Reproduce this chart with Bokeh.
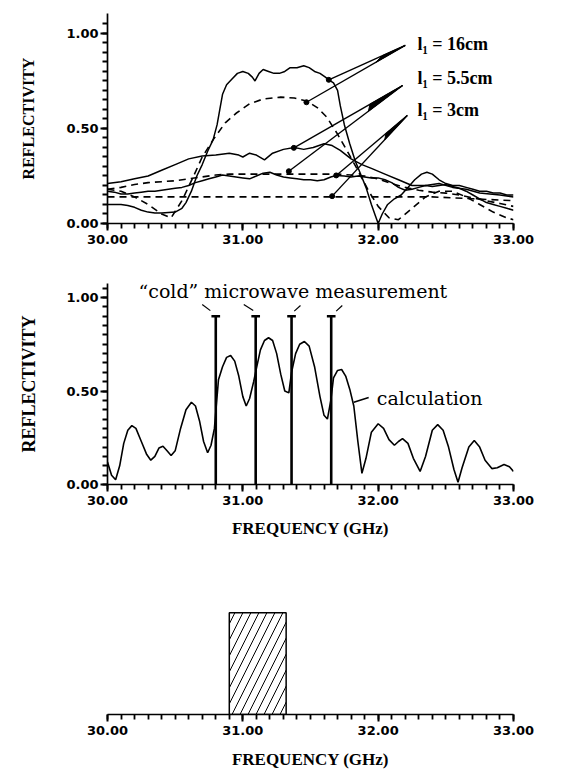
import numpy as np
from bokeh.plotting import figure
from bokeh.models import Range1d, FixedTicker, NumeralTickFormatter, Label
from bokeh.layouts import column
from bokeh.embed import file_html
from bokeh.resources import INLINE
from bokeh.core.properties import value

# ---------------- data ----------------
x_ticks = [30.0, 31.0, 32.0, 33.0]
y_ticks = [0.0, 0.5, 1.0]

# panel a) measured (solid) and calculated (dashed) reflectivity
f_m16 = [30.00, 30.05, 30.10, 30.15, 30.20, 30.25, 30.30, 30.35, 30.40, 30.45, 30.50, 30.55, 30.58, 30.62,
         30.66, 30.70, 30.74, 30.78, 30.81, 30.83, 30.85, 30.88, 30.92, 30.96, 31.00, 31.04, 31.07, 31.09,
         31.12, 31.15, 31.19, 31.23, 31.27, 31.31, 31.35, 31.40, 31.45, 31.49, 31.53, 31.57, 31.61, 31.635,
         31.67, 31.70, 31.72, 31.75, 31.79, 31.83, 31.87, 31.91, 31.95, 31.98, 32.00, 32.03, 32.07, 32.12,
         32.17, 32.22, 32.27, 32.32, 32.36, 32.40, 32.45, 32.50, 32.55, 32.60, 32.65, 32.70, 32.75, 32.80,
         32.85, 32.90, 32.95, 33.00]
r_m16 = [0.10, 0.10, 0.10, 0.095, 0.085, 0.07, 0.06, 0.055, 0.055, 0.058, 0.06, 0.08, 0.11, 0.17,
         0.25, 0.31, 0.38, 0.44, 0.52, 0.60, 0.68, 0.73, 0.76, 0.79, 0.80, 0.79, 0.77, 0.75,
         0.79, 0.81, 0.80, 0.79, 0.79, 0.80, 0.82, 0.82, 0.83, 0.82, 0.80, 0.79, 0.77, 0.756,
         0.74, 0.70, 0.62, 0.52, 0.42, 0.33, 0.26, 0.19, 0.10, 0.04, 0.0, 0.05, 0.10, 0.13,
         0.15, 0.19, 0.23, 0.26, 0.27, 0.26, 0.23, 0.21, 0.20, 0.20, 0.19, 0.18, 0.17, 0.17,
         0.16, 0.16, 0.15, 0.15]

f_c16 = [30.00, 30.10, 30.20, 30.30, 30.40, 30.47, 30.55, 30.63, 30.70, 30.78, 30.87, 30.95, 31.05, 31.15,
         31.28, 31.38, 31.47, 31.55, 31.62, 31.70, 31.78, 31.85, 31.93, 32.00, 32.08, 32.15, 32.25, 32.35,
         32.45, 32.55, 32.65, 32.75, 32.85, 32.95, 33.00]
r_c16 = [0.18, 0.17, 0.14, 0.10, 0.05, 0.03, 0.12, 0.24, 0.35, 0.44, 0.53, 0.58, 0.63, 0.655,
         0.665, 0.66, 0.645, 0.61, 0.56, 0.47, 0.37, 0.28, 0.17, 0.09, 0.03, 0.02, 0.08, 0.14,
         0.17, 0.17, 0.14, 0.10, 0.06, 0.03, 0.02]

f_m55 = [30.00, 30.10, 30.20, 30.30, 30.40, 30.50, 30.60, 30.70, 30.80, 30.90, 30.97, 31.00, 31.05, 31.10,
         31.16, 31.22, 31.30, 31.38, 31.45, 31.52, 31.60, 31.66, 31.72, 31.80, 31.88, 31.95, 32.05, 32.15,
         32.25, 32.35, 32.45, 32.55, 32.65, 32.75, 32.90, 33.00]
r_m55 = [0.21, 0.22, 0.235, 0.25, 0.28, 0.31, 0.34, 0.355, 0.36, 0.37, 0.36, 0.35, 0.37, 0.36,
         0.335, 0.37, 0.39, 0.40, 0.39, 0.40, 0.42, 0.41, 0.385, 0.34, 0.31, 0.29, 0.26, 0.23,
         0.20, 0.20, 0.21, 0.19, 0.18, 0.16, 0.15, 0.14]

f_c55 = [30.0, 30.1, 30.2, 30.3, 30.4, 30.5, 30.6, 30.7, 30.8, 30.9, 31.7, 31.8, 31.9, 32.0, 32.1, 32.2,
         32.3, 32.4, 32.5, 32.6, 32.7, 32.8, 32.9, 33.0]
r_c55 = [0.18, 0.19, 0.205, 0.215, 0.22, 0.225, 0.235, 0.245, 0.255, 0.26, 0.26, 0.255, 0.25, 0.235, 0.21, 0.19,
         0.175, 0.165, 0.16, 0.15, 0.135, 0.12, 0.105, 0.09]

f_m3 = [30.00, 30.05, 30.10, 30.15, 30.20, 30.25, 30.30, 30.35, 30.40, 30.45, 30.50, 30.55, 30.60, 30.65,
        30.70, 30.75, 30.80, 30.85, 30.90, 30.95, 31.00, 31.05, 31.10, 31.15, 31.20, 31.25, 31.30, 31.35,
        31.40, 31.45, 31.50, 31.55, 31.60, 31.65, 31.69, 31.75, 31.80, 31.85, 31.90, 31.95, 32.00, 32.05,
        32.10, 32.15, 32.20, 32.25, 32.30, 32.35, 32.40, 32.45, 32.50, 32.55, 32.60, 32.65, 32.70, 32.75,
        32.80, 32.85, 32.90, 32.95, 33.00]
r_m3 = [0.17, 0.165, 0.155, 0.155, 0.16, 0.165, 0.17, 0.17, 0.175, 0.18, 0.185, 0.19, 0.20, 0.215,
        0.225, 0.235, 0.245, 0.255, 0.25, 0.245, 0.24, 0.235, 0.25, 0.265, 0.27, 0.255, 0.245, 0.24,
        0.235, 0.23, 0.23, 0.225, 0.23, 0.245, 0.253, 0.25, 0.245, 0.25, 0.245, 0.24, 0.24, 0.23,
        0.215, 0.19, 0.175, 0.18, 0.19, 0.20, 0.195, 0.20, 0.205, 0.195, 0.185, 0.17, 0.15, 0.13,
        0.11, 0.10, 0.09, 0.08, 0.07]

f_c3 = [30.0, 32.4, 32.7, 33.0]
r_c3 = [0.14, 0.14, 0.13, 0.12]

# labels with their pointer wedges (tip near label, two ends on the curves)
lab_text = ["l\u2081 = 16cm", "l\u2081 = 5.5cm", "l\u2081 = 3cm"]
lab_f = [32.29, 32.29, 32.29]
lab_r = [0.947, 0.768, 0.595]
tip_f = [32.20, 32.18, 32.215]
tip_r = [0.937, 0.726, 0.568]
end1_f = [31.635, 31.377, 31.69]
end1_r = [0.756, 0.398, 0.253]
end2_f = [31.47, 31.34, 31.66]
end2_r = [0.638, 0.275, 0.144]

# panel b) calculation and "cold" microwave measurements
f_calc = [30.00, 30.03, 30.06, 30.09, 30.12, 30.15, 30.18, 30.21, 30.25, 30.29, 30.32, 30.35, 30.38, 30.41,
          30.44, 30.47, 30.50, 30.54, 30.58, 30.62, 30.65, 30.68, 30.71, 30.74, 30.765, 30.79, 30.82, 30.85,
          30.88, 30.91, 30.94, 30.97, 31.00, 31.025, 31.05, 31.08, 31.10, 31.13, 31.16, 31.19, 31.22, 31.25,
          31.28, 31.31, 31.34, 31.36, 31.39, 31.42, 31.455, 31.49, 31.53, 31.57, 31.60, 31.625, 31.65, 31.67,
          31.70, 31.73, 31.76, 31.79, 31.82, 31.85, 31.88, 31.91, 31.95, 32.00, 32.04, 32.08, 32.12, 32.15,
          32.18, 32.22, 32.26, 32.31, 32.35, 32.40, 32.44, 32.48, 32.52, 32.56, 32.59, 32.62, 32.67, 32.71,
          32.75, 32.79, 32.84, 32.88, 32.93, 32.97, 33.00]
r_calc = [0.12, 0.05, 0.025, 0.10, 0.22, 0.29, 0.315, 0.30, 0.23, 0.16, 0.13, 0.15, 0.195, 0.205,
          0.18, 0.155, 0.18, 0.30, 0.40, 0.44, 0.42, 0.34, 0.23, 0.17, 0.21, 0.30, 0.56, 0.63,
          0.68, 0.69, 0.66, 0.58, 0.47, 0.42, 0.46, 0.55, 0.62, 0.72, 0.77, 0.785, 0.77, 0.70,
          0.59, 0.50, 0.49, 0.60, 0.70, 0.75, 0.765, 0.74, 0.63, 0.47, 0.37, 0.35, 0.45, 0.57,
          0.61, 0.615, 0.58, 0.51, 0.42, 0.23, 0.06, 0.14, 0.28, 0.325, 0.30, 0.24, 0.21, 0.23,
          0.245, 0.22, 0.14, 0.07, 0.15, 0.29, 0.32, 0.29, 0.20, 0.08, 0.012, 0.09, 0.20, 0.235,
          0.20, 0.13, 0.085, 0.09, 0.107, 0.095, 0.07]

f_cold = [30.80, 31.095, 31.36, 31.653]
r_cold = [0.90, 0.90, 0.90, 0.90]
# short leader marks from the text to each measurement
lead_f0 = [30.70, 31.007, 31.426, 31.735]
lead_r0 = [0.963, 0.963, 0.957, 0.957]
lead_f1 = [30.76, 31.077, 31.38, 31.69]
lead_r1 = [0.93, 0.93, 0.927, 0.927]

# panel c) hatched band
band_left = [30.90]
band_right = [31.32]
band_top = [1.0]

# ---------------- styling helpers ----------------
TICK_FONT = "DejaVu Sans"
SERIF = "Liberation Serif"
FW = 562
LEFT = 107
FRAME_W = 406

x_minor = [float(v) for v in np.round(np.arange(30.0, 33.0001, 0.1), 2)]


def style_axes(p, show_y=True, y_minor_top=1.1):
    p.xaxis.ticker = FixedTicker(ticks=x_ticks, minor_ticks=x_minor)
    p.xaxis.formatter = NumeralTickFormatter(format="0.00")
    axes = [p.xaxis[0]]
    if show_y:
        y_minor = [float(v) for v in np.round(np.arange(0.0, y_minor_top, 0.05), 2)]
        p.yaxis.ticker = FixedTicker(ticks=y_ticks, minor_ticks=y_minor)
        p.yaxis.formatter = NumeralTickFormatter(format="0.00")
        axes.append(p.yaxis[0])
    else:
        p.yaxis.visible = False
    for ax in axes:
        ax.axis_line_width = 1.7
        ax.axis_line_color = "black"
        ax.major_tick_line_width = 2.0
        ax.minor_tick_line_width = 1.8
        ax.major_tick_out = 7
        ax.major_tick_in = 0
        ax.minor_tick_out = 5
        ax.minor_tick_in = 0
        ax.major_tick_line_color = "black"
        ax.minor_tick_line_color = "black"
        ax.major_label_text_font = TICK_FONT
        ax.major_label_text_font_style = "bold"
        ax.major_label_text_font_size = "13px"
        ax.major_label_text_color = "black"
    p.xaxis.major_label_standoff = 4
    if show_y:
        p.yaxis.major_label_standoff = 2
        p.yaxis.axis_label = "REFLECTIVITY"
        p.yaxis.axis_label_text_font = SERIF
        p.yaxis.axis_label_text_font_style = "bold"
        p.yaxis.axis_label_text_color = "black"
    p.xgrid.visible = False
    p.ygrid.visible = False
    p.outline_line_color = None
    p.background_fill_color = "white"
    p.border_fill_color = "white"


def new_fig(h, top, bottom, yr):
    p = figure(width=FW, height=h, output_backend="svg", toolbar_location=None,
               x_range=Range1d(30.0, 33.0), y_range=Range1d(*yr),
               min_border_left=LEFT, min_border_right=FW - LEFT - FRAME_W,
               min_border_top=top, min_border_bottom=bottom)
    return p


def freq_axis_label(p, standoff):
    p.xaxis.axis_label = "FREQUENCY (GHz)"
    p.xaxis.axis_label_text_font = SERIF
    p.xaxis.axis_label_text_font_style = "bold"
    p.xaxis.axis_label_text_font_size = "17px"
    p.xaxis.axis_label_text_color = "black"
    p.xaxis.axis_label_standoff = standoff


# ---------------- panel a ----------------
pa = new_fig(265, 13, 42, (0.0, 1.105))
style_axes(pa, True, 1.1)
pa.yaxis.axis_label_text_font_size = "16px"
pa.yaxis.axis_label_standoff = 26

solid = dict(line_color="black", line_width=1.5)
dashed = dict(line_color="black", line_width=1.6, line_dash="7 5")
pa.line(f_m16, r_m16, **solid)
pa.line(f_m55, r_m55, **solid)
pa.line(f_m3, r_m3, **solid)
pa.line(f_c16, r_c16, **dashed)
pa.line(f_c55, r_c55, **dashed)
pa.line(f_c3, r_c3, **dashed)

tf, tr = np.array(tip_f), np.array(tip_r)
e1f, e1r = np.array(end1_f), np.array(end1_r)
e2f, e2r = np.array(end2_f), np.array(end2_r)
pa.segment(tf, tr, e1f, e1r, line_color="black", line_width=1.4)
pa.segment(tf, tr, e2f, e2r, line_color="black", line_width=1.4)
k = 0.3
wedge_xs = [[tf[i], tf[i] + k * (e1f[i] - tf[i]), tf[i] + k * (e2f[i] - tf[i])] for i in range(3)]
wedge_ys = [[tr[i], tr[i] + k * (e1r[i] - tr[i]), tr[i] + k * (e2r[i] - tr[i])] for i in range(3)]
pa.patches(wedge_xs, wedge_ys, fill_color="black", line_color="black", line_width=1)
pa.scatter(list(e1f) + list(e2f), list(e1r) + list(e2r), size=5, color="black")
pa.text(lab_f, lab_r, text=lab_text, text_font=value(SERIF), text_font_style="bold",
        text_font_size="18px", text_baseline="middle", text_align="left", text_color="black")
pa.add_layout(Label(x=33.12, y=0.50, text="a)", text_align="left", text_baseline="middle",
                    text_font=SERIF, text_font_style="bold", text_font_size="25px", text_color="black"))

# ---------------- panel b ----------------
pb = new_fig(279, 18, 60, (0.0, 1.075))
style_axes(pb, True, 1.06)
pb.yaxis.axis_label_text_font_size = "18px"
pb.yaxis.axis_label_standoff = 24
freq_axis_label(pb, 11)

pb.line(f_calc, r_calc, line_color="black", line_width=1.6)
fc = np.array(f_cold)
pb.segment(fc, 0.0, fc, r_cold, line_color="black", line_width=2.6)
pb.segment(fc - 0.032, r_cold, fc + 0.032, r_cold, line_color="black", line_width=2.6)
pb.segment(lead_f0, lead_r0, lead_f1, lead_r1, line_color="black", line_width=1.2)
pb.segment([31.82], [0.44], [31.93], [0.465], line_color="black", line_width=1.6)
pb.text([31.37], [1.035], text=["\u201ccold\u201d microwave measurement"], text_font=value("DejaVu Serif"),
        text_font_size="19px", text_align="center", text_baseline="middle", text_color="black")
pb.text([31.99], [0.465], text=["calculation"], text_font=value("DejaVu Serif"),
        text_font_size="19px", text_align="left", text_baseline="middle", text_color="black")
pb.add_layout(Label(x=33.09, y=0.47, text="b)", text_align="left", text_baseline="middle",
                    text_font=SERIF, text_font_style="bold", text_font_size="25px", text_color="black"))

# ---------------- panel c ----------------
pc = new_fig(232, 58, 62, (0.0, 1.1))
style_axes(pc, False)
freq_axis_label(pc, 12)
pc.quad(left=band_left, right=band_right, bottom=0.0, top=band_top, fill_color="white",
        hatch_pattern="/", hatch_color="black", hatch_scale=16, hatch_weight=1.0,
        line_color="black", line_width=1.5)
pc.add_layout(Label(x=33.12, y=0.92, text="c)", text_align="left", text_baseline="middle",
                    text_font=SERIF, text_font_style="bold", text_font_size="25px", text_color="black"))

layout = column(pa, pb, pc, spacing=0)
open("out.html", "w").write(file_html(layout, INLINE))
